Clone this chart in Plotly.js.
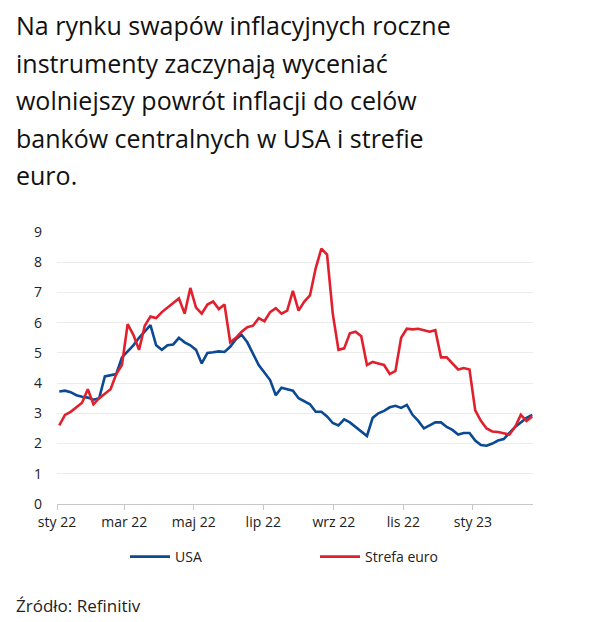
<!DOCTYPE html>
<html>
<head>
<meta charset="utf-8">
<script src="https://cdn.plot.ly/plotly-3.0.1.min.js"></script>
<style>
  html, body { margin: 0; padding: 0; background: #fff; }
  #chart { width: 604px; height: 622px; }
</style>
</head>
<body>
<div id="chart"></div>
<script>
// Dates (every 5 days)
const startDate = new Date(Date.UTC(2022, 0, 3));
const dates = [];
for (let i = 0; i < 84; i++) {
  const d = new Date(startDate.getTime() + i * 5 * 86400000);
  dates.push(d.toISOString().slice(0, 10));
}

const usaValues = [
  3.72, 3.75, 3.70, 3.60, 3.55, 3.52, 3.45, 3.50, 4.22, 4.25,
  4.30, 4.85, 5.05, 5.25, 5.50, 5.70, 5.92, 5.25, 5.10, 5.25,
  5.28, 5.50, 5.35, 5.25, 5.10, 4.65, 5.00, 5.02, 5.05, 5.03,
  5.20, 5.45, 5.60, 5.35, 4.95, 4.60, 4.35, 4.10, 3.60, 3.85,
  3.80, 3.75, 3.50, 3.40, 3.30, 3.05, 3.05, 2.90, 2.68, 2.60,
  2.80, 2.70, 2.55, 2.38, 2.25, 2.85, 3.00, 3.08, 3.20, 3.25,
  3.18, 3.28, 2.95, 2.75, 2.50, 2.60, 2.70, 2.70, 2.55, 2.45,
  2.30, 2.35, 2.35, 2.10, 1.95, 1.93, 2.00, 2.10, 2.15, 2.35,
  2.55, 2.70, 2.85, 2.95
];

const euroValues = [
  2.60, 2.95, 3.05, 3.20, 3.35, 3.80, 3.30, 3.50, 3.65, 3.80,
  4.30, 4.60, 5.95, 5.60, 5.10, 5.90, 6.20, 6.15, 6.35, 6.50,
  6.65, 6.80, 6.30, 7.15, 6.50, 6.30, 6.60, 6.70, 6.45, 6.60,
  5.35, 5.50, 5.70, 5.85, 5.90, 6.15, 6.05, 6.35, 6.48, 6.30,
  6.40, 7.05, 6.40, 6.70, 6.90, 7.80, 8.45, 8.25, 6.30, 5.10,
  5.15, 5.65, 5.70, 5.55, 4.60, 4.70, 4.65, 4.60, 4.30, 4.40,
  5.50, 5.80, 5.78, 5.80, 5.75, 5.70, 5.75, 4.85, 4.85, 4.65,
  4.45, 4.50, 4.45, 3.10, 2.75, 2.50, 2.40, 2.38, 2.35, 2.30,
  2.55, 2.95, 2.75, 2.90
];

const tickDates = ['2022-01-01', '2022-03-01', '2022-05-01', '2022-07-01', '2022-09-01', '2022-11-01', '2023-01-01'];
const tickLabels = ['sty 22', 'mar 22', 'maj 22', 'lip 22', 'wrz 22', 'lis 22', 'sty 23'];
const yTicks = [0, 1, 2, 3, 4, 5, 6, 7, 8, 9];

const seriesNames = ['USA', 'Strefa euro'];

const titleLines = [
  'Na rynku swapów inflacyjnych roczne',
  'instrumenty zaczynają wyceniać',
  'wolniejszy powrót inflacji do celów',
  'banków centralnych w USA i strefie',
  'euro.'
];
const sourceText = 'Źródło: Refinitiv';

const FONT = '"Open Sans", "Noto Sans", sans-serif';

const traces = [
  { x: dates, y: usaValues, name: seriesNames[0], type: 'scatter', mode: 'lines',
    line: { color: '#0b4a93', width: 2.6 } },
  { x: dates, y: euroValues, name: seriesNames[1], type: 'scatter', mode: 'lines',
    line: { color: '#e1202e', width: 2.6 } }
];

// plot area: left 57, right 533, top 232, bottom 504 (pixels)
const plotTop = 232, plotBottom = 504, plotH = plotBottom - plotTop;
function py(pix) { return (plotBottom - pix) / plotH; }

const annotations = titleLines.map((t, i) => ({
  text: t, xref: 'paper', yref: 'paper',
  x: (14 - 57) / 476, xanchor: 'left',
  y: py(25 + i * 37.5), yanchor: 'middle',
  showarrow: false, align: 'left',
  font: { family: FONT, size: 25, color: '#111' }
}));
annotations.push({
  text: sourceText, xref: 'paper', yref: 'paper',
  x: (14 - 57) / 476, xanchor: 'left',
  y: py(605), yanchor: 'middle', showarrow: false,
  font: { family: FONT, size: 17, color: '#222' }
});

const layout = {
  width: 604, height: 622,
  margin: { l: 57, r: 71, t: 232, b: 118 },
  paper_bgcolor: '#fff', plot_bgcolor: '#fff',
  showlegend: true,
  legend: {
    orientation: 'h', xref: 'container', x: 125 / 604, xanchor: 'left',
    yref: 'container', y: (622 - 557) / 622, yanchor: 'middle',
    entrywidth: 135, entrywidthmode: 'pixels',
    font: { family: FONT, size: 14, color: '#222' },
    itemwidth: 40, bgcolor: 'rgba(0,0,0,0)'
  },
  xaxis: {
    type: 'date',
    range: ['2022-01-01', '2023-02-22 17:00'],
    tickvals: tickDates, ticktext: tickLabels,
    showgrid: false, zeroline: false,
    showline: true, linecolor: '#c8c8c8', linewidth: 1,
    ticks: 'outside', ticklen: 5, tickcolor: '#c8c8c8',
    tickfont: { family: FONT, size: 14, color: '#222' }
  },
  yaxis: {
    range: [0, 9], tickvals: yTicks,
    showgrid: true, gridcolor: '#ececec', gridwidth: 1,
    zeroline: false, showline: false, ticks: '',
    ticklabelstandoff: 14,
    tickfont: { family: FONT, size: 14, color: '#222' }
  },
  annotations: annotations
};

Plotly.newPlot('chart', traces, layout, { displayModeBar: false, staticPlot: true });
</script>
</body>
</html>
